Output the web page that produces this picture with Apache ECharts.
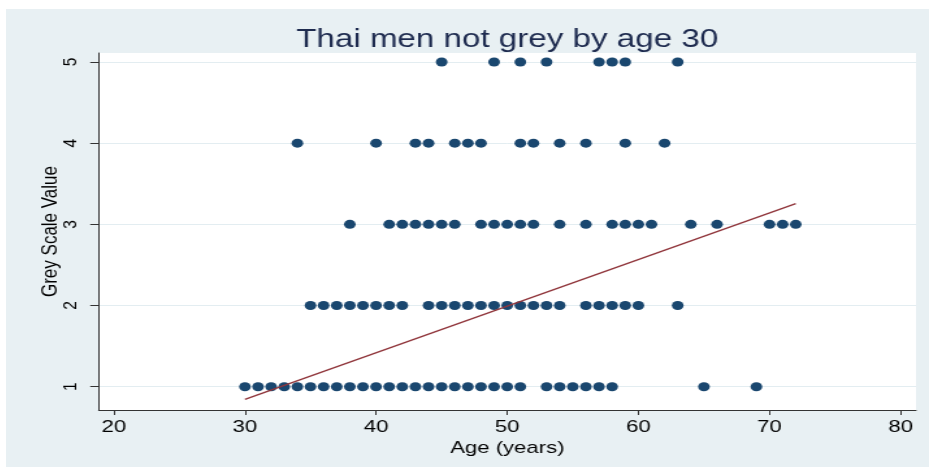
<!DOCTYPE html>
<html>
<head>
<meta charset="utf-8">
<script src="https://cdn.jsdelivr.net/npm/echarts@6/dist/echarts.min.js"></script>
<style>
  html, body { margin: 0; padding: 0; background: #ffffff; }
  #frame {
    position: absolute; left: 6px; top: 9px; width: 923px; height: 458px;
    background: #e8f0f3; overflow: hidden;
  }
  /* the chart is laid out narrower and stretched sideways */
  #chart {
    position: absolute; left: 0; top: 0; width: 710px; height: 458px;
    transform: scaleX(1.3); transform-origin: 0 0;
  }
</style>
</head>
<body>
<div id="frame"><div id="chart"></div></div>
<script>
// Ages (years) observed at each grey scale value
const ages1 = [30, 31, 32, 33, 34, 35, 36, 37, 38, 39, 40, 41, 42, 43, 44, 45, 46, 47, 48, 49, 50, 51,
               53, 54, 55, 56, 57, 58, 65, 69];
const ages2 = [35, 36, 37, 38, 39, 40, 41, 42, 44, 45, 46, 47, 48, 49, 50, 51, 52, 53, 54,
               56, 57, 58, 59, 60, 63];
const ages3 = [38, 41, 42, 43, 44, 45, 46, 48, 49, 50, 51, 52, 54, 56, 58, 59, 60, 61, 64, 66, 70, 71, 72];
const ages4 = [34, 40, 43, 44, 46, 47, 48, 51, 52, 54, 56, 59, 62];
const ages5 = [45, 49, 51, 53, 57, 58, 59, 63];

const greyLevels = [1, 2, 3, 4, 5];
const ageTicks = [20, 30, 40, 50, 60, 70, 80];

// Fitted linear trend, end points
const fitAges = [30, 72];
const fitValues = [0.845, 3.255];

const agesByLevel = [ages1, ages2, ages3, ages4, ages5];
const points = [];
agesByLevel.forEach((ages, i) => {
  ages.forEach(a => points.push([a, greyLevels[i]]));
});

const font = '"Liberation Sans", Arial, Helvetica, sans-serif';
const chart = echarts.init(document.getElementById('chart'));

chart.setOption({
  animation: false,
  backgroundColor: 'transparent',
  title: {
    text: 'Thai men not grey by age 30',
    left: 385.5,
    top: 18,
    padding: 0,
    textAlign: 'center',
    textStyle: { fontFamily: font, fontSize: 25.5, fontWeight: 'normal', color: '#1e2b4f' }
  },
  grid: {
    left: 71.3, right: 10, top: 44, bottom: 57,
    show: true, backgroundColor: '#ffffff', borderWidth: 0
  },
  xAxis: {
    type: 'value',
    min: 18.85, max: 81.17,
    name: 'Age (years)',
    nameLocation: 'middle',
    nameMoveOverlap: false,
    nameGap: 30,
    nameTextStyle: { fontFamily: font, fontSize: 17, color: '#000' },
    axisLine: { show: true, onZero: false, lineStyle: { color: '#333', width: 1 } },
    axisTick: { show: true, length: 5, customValues: ageTicks, lineStyle: { color: '#333' } },
    axisLabel: { customValues: ageTicks, margin: 9, fontFamily: font, fontSize: 17, color: '#000' },
    splitLine: { show: false }
  },
  yAxis: {
    type: 'value',
    min: 0.713, max: 5.111,
    name: 'Grey Scale Value',
    nameLocation: 'middle',
    nameMoveOverlap: false,
    nameGap: 28,
    nameRotate: 90,
    nameTextStyle: { fontFamily: font, fontSize: 17, color: '#000' },
    axisLine: { show: true, onZero: false, lineStyle: { color: '#333', width: 1 } },
    axisTick: { show: true, length: 6.5, customValues: greyLevels, lineStyle: { color: '#333' } },
    axisLabel: { customValues: greyLevels, rotate: 90, margin: 14, fontFamily: font, fontSize: 15.5, color: '#000' },
    splitLine: { show: true, lineStyle: { color: '#e3edf1', width: 1 } }
  },
  series: [
    {
      type: 'scatter',
      data: points,
      symbol: 'circle',
      symbolSize: 9,
      itemStyle: { color: '#1a476f', opacity: 1 },
      z: 2
    },
    {
      type: 'line',
      data: fitAges.map((a, i) => [a, fitValues[i]]),
      showSymbol: false,
      lineStyle: { color: '#90353b', width: 1.3 },
      z: 3
    }
  ]
});
</script>
</body>
</html>
